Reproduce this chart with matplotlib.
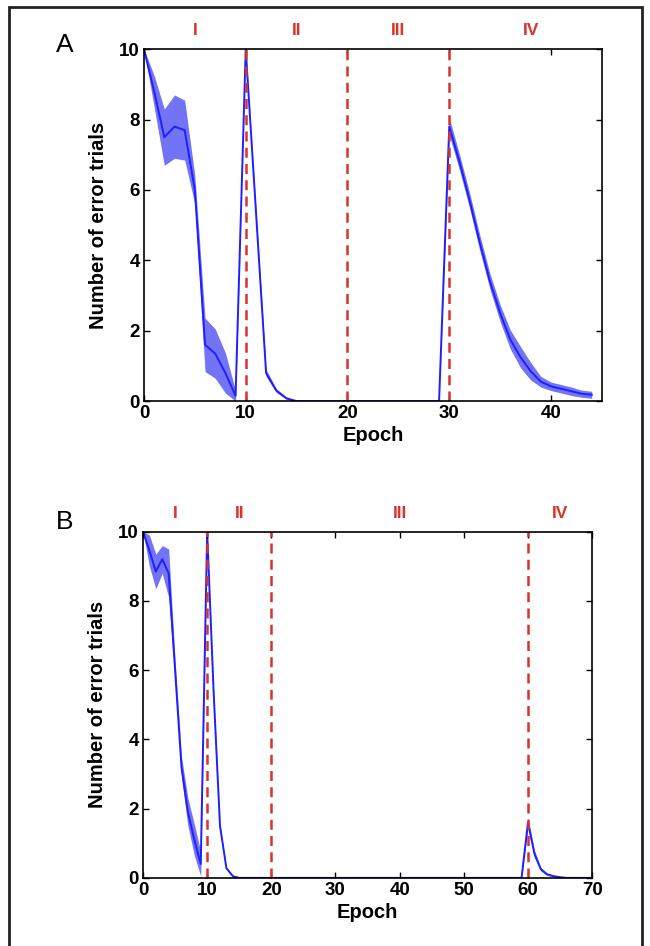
import numpy as np
import matplotlib
matplotlib.use("Agg")
import matplotlib.pyplot as plt
from matplotlib.patches import Rectangle

plt.rcParams['font.family'] = ['Liberation Sans', 'DejaVu Sans']

# panel A: mean number of error trials per epoch and half-width of shaded band
epochs_a = np.arange(0, 45)
mean_a = [10, 8.8, 7.5, 7.8, 7.7, 6.0, 1.6, 1.35, 0.8, 0.15,
          10, 5.4, 0.8, 0.3, 0.08, 0, 0, 0, 0, 0,
          0, 0, 0, 0, 0, 0, 0, 0, 0, 0,
          7.8, 6.8, 5.7, 4.5, 3.4, 2.5, 1.75, 1.25, 0.85, 0.55,
          0.42, 0.35, 0.28, 0.21, 0.18]
err_a = [0, 0.45, 0.8, 0.9, 0.85, 0.4, 0.76, 0.7, 0.57, 0.15,
         0, 0.1, 0.1, 0.05, 0.03, 0, 0, 0, 0, 0,
         0, 0, 0, 0, 0, 0, 0, 0, 0, 0,
         0.25, 0.22, 0.22, 0.22, 0.22, 0.24, 0.27, 0.3, 0.25, 0.15,
         0.12, 0.12, 0.12, 0.1, 0.1]
bounds_a = [10, 20, 30]
phases_a = ['I', 'II', 'III', 'IV']
phase_x_a = [5, 15, 25, 38]

# panel B
epochs_b = np.arange(0, 71)
mean_b = [10, 9.45, 8.85, 9.2, 8.8, 6.0, 3.2, 1.9, 1.1, 0.4,
          10, 5.4, 1.5, 0.28, 0.05] + [0] * 45 + \
         [1.6, 0.7, 0.25, 0.1, 0.05, 0.02, 0, 0, 0, 0, 0]
err_b = [0, 0.45, 0.5, 0.4, 0.7, 0.3, 0.3, 0.4, 0.45, 0.35,
         0, 0.05, 0.05, 0.03, 0.02] + [0] * 45 + \
        [0.15, 0.1, 0.05, 0.03, 0.02, 0, 0, 0, 0, 0, 0]
bounds_b = [10, 20, 60]
phases_b = ['I', 'II', 'III', 'IV']
phase_x_b = [5, 15, 40, 65]

blue = '#1f1fff'
band = '#5a5af5'
red = '#d9342b'


def draw_panel(ax, x, m, e, bounds, phases, phase_x, xmax, xticks):
    m = np.array(m, dtype=float)
    e = np.array(e, dtype=float)
    ax.fill_between(x, m - e, m + e, color=band, alpha=0.85, lw=0, zorder=1)
    ax.plot(x, m, color=blue, lw=1.4, zorder=1.5)
    for b in bounds:
        ax.axvline(b, color=red, lw=1.8, ls=(0, (4, 2.5)), zorder=3)
    for lab, px in zip(phases, phase_x):
        ax.text(px, 10.52, lab, color=red, fontsize=12.5, fontweight='bold',
                ha='center', va='center')
    ax.set_xlim(0, xmax)
    ax.set_ylim(0, 10)
    ax.set_xticks(xticks)
    ax.set_yticks([0, 2, 4, 6, 8, 10])
    ax.tick_params(direction='in', top=True, right=True, length=4, width=1,
                   labelsize=13.5, pad=3)
    for lab in ax.get_xticklabels() + ax.get_yticklabels():
        lab.set_fontweight('bold')
    for s in ax.spines.values():
        s.set_linewidth(1.2)
        s.set_zorder(4)
    ax.set_xlabel('Epoch', fontsize=14.5, fontweight='bold', labelpad=3)
    ax.set_ylabel('Number of error trials', fontsize=14.5, fontweight='bold', labelpad=8)


fig = plt.figure(figsize=(6.5, 9.46), dpi=100)
ax_a = fig.add_axes([0.2215, 0.576, 0.7045, 0.372])
ax_b = fig.add_axes([0.22, 0.072, 0.691, 0.366])

draw_panel(ax_a, epochs_a, mean_a, err_a, bounds_a, phases_a, phase_x_a, 45, [0, 10, 20, 30, 40])
draw_panel(ax_b, epochs_b, mean_b, err_b, bounds_b, phases_b, phase_x_b, 70, list(range(0, 71, 10)))

fig.text(65 / 650, 1 - 45 / 946, 'A', fontsize=19, ha='center', va='center')
fig.text(65 / 650, 1 - 522 / 946, 'B', fontsize=19, ha='center', va='center')

# outer frame (bottom edge falls outside the picture)
fig.add_artist(Rectangle((9 / 650, -0.05), 633 / 650, 1.05 - 7 / 946,
                         transform=fig.transFigure, fill=False, lw=2, ec='#222222'))

fig.savefig('out.png', dpi=100)
